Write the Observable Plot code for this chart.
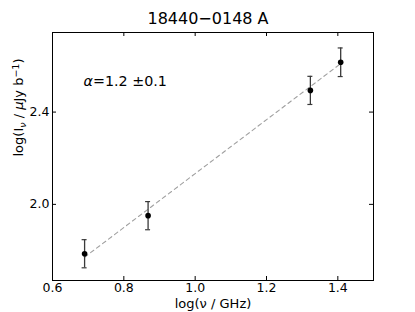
<!DOCTYPE html>
<html>
<head>
<meta charset="utf-8">
<script src="https://cdn.jsdelivr.net/npm/d3@7"></script>
<script src="https://cdn.jsdelivr.net/npm/@observablehq/plot@0.6"></script>
<style>
  html, body { margin: 0; padding: 0; background: #fff; }
  svg { display: block; }
</style>
</head>
<body>
<div id="chart"></div>
<script>
// Data
const logNu = [0.69, 0.868, 1.323, 1.408];
const logI = [1.786, 1.951, 2.494, 2.616];
const logIErr = [0.061, 0.061, 0.061, 0.062];
const fitX = [0.69, 1.408];
const fitY = [1.771, 2.61];
const xTicks = [0.6, 0.8, 1.0, 1.2, 1.4];
const yTicks = [2.0, 2.4];
const titleText = "18440\u22120148 A";
const xLabel = "log(\u03bd / GHz)";

const W = 415, H = 312;
const mL = 52, mR = 42, mT = 32, mB = 32;
const innerW = W - mL - mR, innerH = H - mT - mB;
const tick = 4;
const font = "DejaVu Sans, sans-serif";

const points = logNu.map((x, i) => ({x, y: logI[i], lo: logI[i] - logIErr[i], hi: logI[i] + logIErr[i]}));
const fit = fitX.map((x, i) => ({x, y: fitY[i]}));

const chart = Plot.plot({
  width: W, height: H,
  marginLeft: mL, marginRight: mR, marginTop: mT, marginBottom: mB,
  style: {fontFamily: font, background: "#fff"},
  x: {type: "linear", domain: [0.6, 1.5]},
  y: {type: "linear", domain: [1.67, 2.745]},
  marks: [
    // dashed fit
    Plot.line(fit, {x: "x", y: "y", stroke: "#a0a0a0", strokeWidth: 1.1, strokeDasharray: "4,3.5"}),
    // error bars
    Plot.ruleX(points, {x: "x", y1: "lo", y2: "hi", stroke: "#3a3a3a", strokeWidth: 1.3}),
    Plot.ruleY(points, {y: "lo", x1: "x", x2: "x", insetLeft: -2.5, insetRight: -2.5, stroke: "#3a3a3a", strokeWidth: 1.2}),
    Plot.ruleY(points, {y: "hi", x1: "x", x2: "x", insetLeft: -2.5, insetRight: -2.5, stroke: "#3a3a3a", strokeWidth: 1.2}),
    Plot.dot(points, {x: "x", y: "y", r: 2.8, fill: "#000", stroke: "none"}),
    // frame
    Plot.frame({stroke: "#000", strokeWidth: 1}),
    // inward ticks, all sides
    Plot.tickX(xTicks, {x: d => d, stroke: "#000", insetTop: innerH - tick}),
    Plot.tickX(xTicks, {x: d => d, stroke: "#000", insetBottom: innerH - tick}),
    Plot.tickY(yTicks, {y: d => d, stroke: "#000", insetRight: innerW - tick}),
    Plot.tickY(yTicks, {y: d => d, stroke: "#000", insetLeft: innerW - tick}),
    // tick labels
    Plot.axisX(xTicks, {anchor: "bottom", tickSize: 0, tickPadding: 3, fontSize: 12.5, tickFormat: d3.format(".1f"), label: null, fill: "#000"}),
    Plot.axisY(yTicks, {anchor: "left", tickSize: 0, tickPadding: 3, fontSize: 12.5, tickFormat: d3.format(".1f"), label: null, fill: "#000"}),
    // axis labels
    Plot.text([xLabel], {frameAnchor: "bottom", dy: 27.5, fontSize: 13, fill: "#000", text: d => d}),
    Plot.text(["ylabel"], {frameAnchor: "left", dx: -34, rotate: -90, fontSize: 13, fill: "#000", text: d => d, className: "ylab"}),
    // title (centred on the figure)
    Plot.text([titleText], {frameAnchor: "top", dx: -5, dy: -20, fontSize: 16, fill: "#000", text: d => d}),
    // annotation
    Plot.text(["annot"], {frameAnchor: "top-left", dx: 31, dy: 43, fontSize: 14.3, fill: "#000", text: d => d, textAnchor: "start", className: "annot"})
  ]
});

document.getElementById("chart").appendChild(chart);
const svg = d3.select(chart);

// y label with sub/superscripts
const yl = svg.select("g.ylab text");
yl.text(null);
yl.append("tspan").text("log(I");
yl.append("tspan").attr("font-size", 9.5).attr("font-style", "italic").attr("baseline-shift", "-25%").text("\u03bd");
yl.append("tspan").text(" / ");
yl.append("tspan").attr("font-style", "italic").text("\u03bc");
yl.append("tspan").text("Jy b");
yl.append("tspan").attr("font-size", 9.5).attr("baseline-shift", "40%").text("\u22121");
yl.append("tspan").text(")");

// annotation with italic alpha
const an = svg.select("g.annot text");
an.text(null);
an.append("tspan").attr("font-style", "italic").text("\u03b1");
an.append("tspan").text("=1.2 \u00b10.1");
</script>
</body>
</html>
